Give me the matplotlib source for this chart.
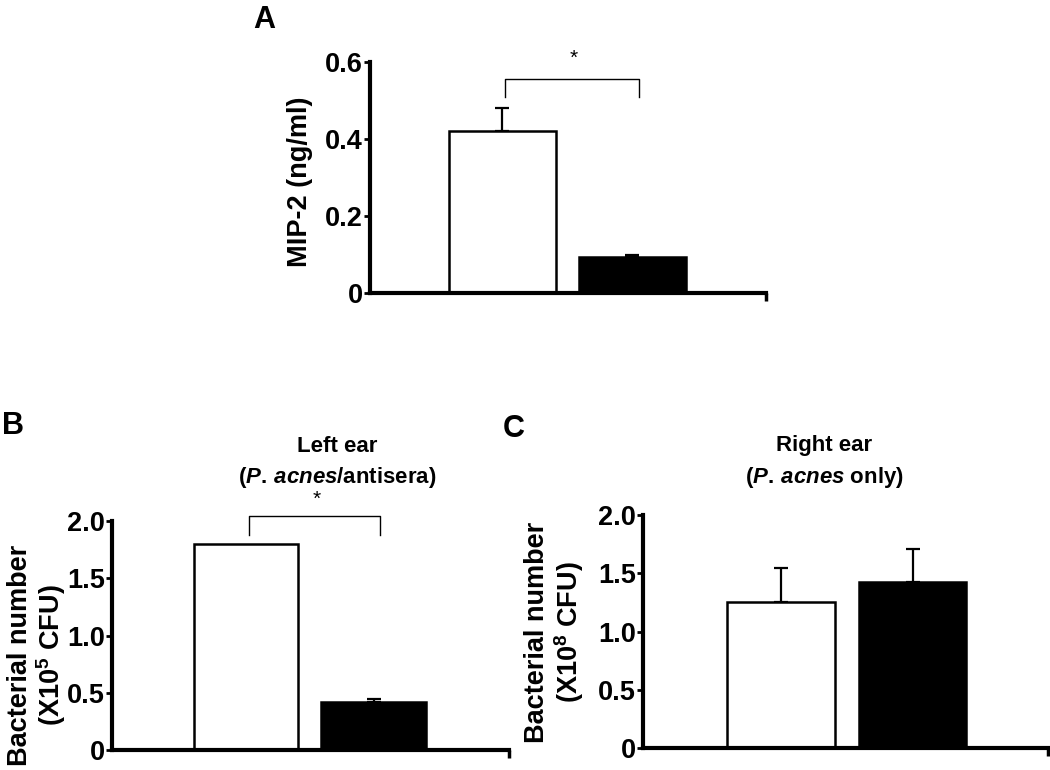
import matplotlib
matplotlib.use("Agg")
import matplotlib.pyplot as plt

plt.rcParams['font.family'] = ['Liberation Sans', 'DejaVu Sans']
plt.rcParams['font.weight'] = 'bold'
plt.rcParams['mathtext.fontset'] = 'custom'
plt.rcParams['mathtext.rm'] = 'Liberation Sans:bold'
plt.rcParams['mathtext.it'] = 'Liberation Sans:italic:bold'
plt.rcParams['mathtext.bf'] = 'Liberation Sans:bold'

# data
groups = [0, 1]
mip2 = [0.42, 0.093]
mip2_err = [0.06, 0.006]
left_ear = [1.80, 0.423]
left_ear_err = [0.0, 0.025]
right_ear = [1.254, 1.425]
right_ear_err = [0.29, 0.286]

ticks_a = [0, 0.2, 0.4, 0.6]
ticklabels_a = ["0", "0.2", "0.4", "0.6"]
ticks_bc = [0, 0.5, 1.0, 1.5, 2.0]
ticklabels_bc = ["0", "0.5", "1.0", "1.5", "2.0"]

W, H = 1050, 770
fig = plt.figure(figsize=(W / 100, H / 100), dpi=100)


def px_axes(left, right, bottom, top):
    return fig.add_axes([left / W, 1 - bottom / H, (right - left) / W, (bottom - top) / H])


def style(ax, ticks, labels, ymax, xlim):
    for s in ['top', 'right']:
        ax.spines[s].set_visible(False)
    for s in ['left', 'bottom']:
        ax.spines[s].set_linewidth(3)
    ax.set_xlim(*xlim)
    ax.set_ylim(0, ymax)
    ax.set_yticks(ticks)
    ax.set_yticklabels(labels, fontsize=19.5, fontweight='bold')
    ax.tick_params(axis='y', direction='out', length=4, width=2, pad=1)
    ax.set_xticks([xlim[1]])
    ax.set_xticklabels([""])
    ax.tick_params(axis='x', direction='out', length=6, width=2.5)


def bars(ax, vals, errs):
    ax.bar(groups, vals, width=0.82, color=['white', 'black'], edgecolor='black',
           linewidth=1.8, zorder=2)
    for g, v, e in zip(groups, vals, errs):
        if e > 0:
            ax.errorbar([g], [v], yerr=[[0], [e]], fmt='none', ecolor='black',
                        elinewidth=1.6, capsize=5, capthick=1.6, zorder=1)


def bracket(ax, y, leg, star_y):
    ax.plot([0.02, 0.02, 1.05, 1.05], [y - leg, y, y, y - leg], color='black',
            linewidth=1, clip_on=False)
    ax.text(0.55, star_y, "*", ha='center', va='center', fontsize=15,
            fontweight='normal', clip_on=False)


# panel A
axA = px_axes(370, 766, 293, 62)
bars(axA, mip2, mip2_err)
style(axA, ticks_a, ticklabels_a, 0.6, (-1.02, 2.03))
bracket(axA, 0.556, 0.047, 0.61)
fig.text(300 / W, 1 - 182 / H, "MIP-2 (ng/ml)", rotation=90, ha='center', va='center',
         fontsize=19.5, fontweight='bold')

# panel B
axB = px_axes(112, 509, 750, 521)
bars(axB, left_ear, left_ear_err)
style(axB, ticks_bc, ticklabels_bc, 2.0, (-1.05, 2.06))
bracket(axB, 2.04, 0.16, 2.19)
fig.text(20 / W, 1 - 655 / H, "Bacterial number", rotation=90, ha='center', va='center',
         fontsize=19.5, fontweight='bold')
fig.text(51 / W, 1 - 655 / H, r"(X10$^{\mathrm{5}}$ CFU)", rotation=90, ha='center',
         va='center', fontsize=19.5, fontweight='bold')
fig.text(337 / W, 1 - 446 / H, "Left ear", ha='center', va='center', fontsize=16,
         fontweight='bold')
fig.text(337 / W, 1 - 477 / H, r"($\mathit{P.}\,\mathit{acnes}$/antisera)", ha='center',
         va='center', fontsize=16, fontweight='bold')

# panel C
axC = px_axes(643, 1048, 748, 515)
bars(axC, right_ear, right_ear_err)
style(axC, ticks_bc, ticklabels_bc, 2.0, (-1.05, 2.03))
fig.text(537 / W, 1 - 632 / H, "Bacterial number", rotation=90, ha='center', va='center',
         fontsize=19.5, fontweight='bold')
fig.text(569 / W, 1 - 632 / H, r"(X10$^{\mathrm{8}}$ CFU)", rotation=90, ha='center',
         va='center', fontsize=19.5, fontweight='bold')
fig.text(824 / W, 1 - 446 / H, "Right ear", ha='center', va='center', fontsize=16,
         fontweight='bold')
fig.text(824 / W, 1 - 477 / H, r"($\mathit{P.}\,\mathit{acnes}$ only)", ha='center',
         va='center', fontsize=16, fontweight='bold')

# panel letters
fig.text(253 / W, 1 - 5 / H, "A", ha='left', va='top', fontsize=22, fontweight='bold')
fig.text(2 / W, 1 - 411 / H, "B", ha='left', va='top', fontsize=22, fontweight='bold')
fig.text(503 / W, 1 - 414 / H, "C", ha='left', va='top', fontsize=22, fontweight='bold')

fig.savefig("out.png", dpi=100)
